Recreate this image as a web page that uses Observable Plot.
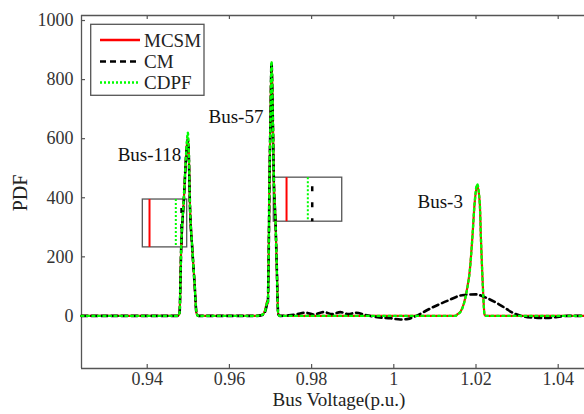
<!DOCTYPE html>
<html>
<head>
<meta charset="utf-8">
<script src="https://cdn.jsdelivr.net/npm/d3@7"></script>
<script src="https://cdn.jsdelivr.net/npm/@observablehq/plot@0.6"></script>
<style>
  html, body { margin: 0; padding: 0; background: #fff; overflow: hidden; }
</style>
</head>
<body>
<div id="chart"></div>
<script>
// Probability density of bus voltage for three buses, three methods.

const xTicks = [0.94, 0.96, 0.98, 1, 1.02, 1.04];
const xTickLabels = ["0.94", "0.96", "0.98", "1", "1.02", "1.04"];
const yTicks = [0, 200, 400, 600, 800, 1000];
const yTickLabels = ["0", "200", "400", "600", "800", "1000"];

const methods = ["MCSM", "CM", "CDPF"];

// Flat ends of the voltage range
const startV = 0.924, endV = 1.0464;

// Bus-118 peak
const v118 = [0.9474, 0.94786, 0.94827, 0.94891, 0.94949, 0.94988, 0.95012, 0.95036, 0.95095, 0.9515, 0.9520, 0.9524];
const mcsm118 = [0, 9, 232, 394, 549, 603, 549, 394, 232, 115, 9, 0];
const cm118   = [0, 9, 230, 392, 545, 598, 545, 392, 230, 114, 9, 0];
const cdpf118 = [0, 9, 234, 398, 556, 620, 556, 398, 234, 116, 9, 0];

// Bus-57 peak (with small shoulder on the left)
const v57 = [0.9665, 0.9680, 0.9687, 0.9692, 0.96935, 0.96955, 0.96976, 0.9700, 0.97024, 0.97056, 0.9708, 0.97122, 0.9715, 0.97187, 0.9722];
const mcsm57 = [0, 4, 20, 50, 38, 200, 470, 673, 858, 673, 470, 319, 180, 7, 0];
const cm57   = [0, 3, 15, 40, 45, 200, 468, 670, 855, 670, 468, 317, 178, 7, 0];
const cdpf57 = [0, 4, 18, 45, 42, 205, 472, 676, 862, 676, 472, 320, 180, 7, 0];

// Bus-3 peak
const v3 = [1.0150, 1.01543, 1.0163, 1.01703, 1.0178, 1.01849, 1.0191, 1.01966, 1.02029, 1.02092, 1.0212, 1.0215, 1.0218, 1.02207, 1.0224];
const mcsm3 = [0, 5, 16, 41, 90, 154, 262, 380, 443, 380, 262, 154, 60, 5, 0];
const cdpf3 = [0, 5, 15, 40, 88, 152, 262, 382, 446, 382, 262, 154, 58, 5, 0];

// CM beyond Bus-57: ripples and the wide Bus-3 estimate
const vCmTail = [0.9725, 0.9745, 0.9765, 0.9785, 0.9805, 0.983, 0.985, 0.987, 0.989, 0.9907, 0.9935, 0.9965, 0.9992, 1.0016, 1.0035, 1.0049, 1.0093, 1.013, 1.0166, 1.0199, 1.0227, 1.026, 1.0292, 1.0325, 1.0373, 1.0422, 1.0464];
const cmTail = [0, 2, 6, 11, 5, 13, 6, 13, 6, 11, 2, -5, -8, -12, -10, -3, 28, 51, 70, 73, 60, 36, 9, -4, -7, 0, 0];

// Zoom boxes next to the Bus-118 and Bus-57 peaks
const insetX1 = [0.93893, 0.9708];
const insetX2 = [0.94973, 0.98745];
const insetTop = [394, 468];
const insetBottom = [232, 319];
const insetMcsmV = [0.94056, 0.97390];
const insetCdpfV = [0.94696, 0.97908];
const insetCmV   = [0.94835, 0.98015];

const busNames = ["Bus-118", "Bus-57", "Bus-3"];
const busLabelV = [0.94056, 0.9616, 1.01129];
const busLabelPdf = [526, 653, 366];

// ---------- build tables ----------
function segment(vs, ps) { return vs.map((v, i) => ({v, pdf: ps[i]})); }
const mcsmRows = [{v: startV, pdf: 0}, ...segment(v118, mcsm118), ...segment(v57, mcsm57), ...segment(v3, mcsm3), {v: endV, pdf: 0}];
const cdpfRows = [{v: startV, pdf: 0}, ...segment(v118, cdpf118), ...segment(v57, cdpf57), ...segment(v3, cdpf3), {v: endV, pdf: 0}];
const cmRows   = [{v: startV, pdf: 0}, ...segment(v118, cm118), ...segment(v57, cm57), ...segment(vCmTail, cmTail)];

const insets = insetX1.map((x1, i) => ({
  x1, x2: insetX2[i], top: insetTop[i], bottom: insetBottom[i],
  mcsm: insetMcsmV[i], cdpf: insetCdpfV[i], cm: insetCmV[i]
}));
const busLabels = busNames.map((name, i) => ({name, v: busLabelV[i], pdf: busLabelPdf[i]}));
const xTickRows = xTicks.map((v, i) => ({v, label: xTickLabels[i]}));
const yTickRows = yTicks.map((p, i) => ({p, label: yTickLabels[i]}));

// ---------- layout ----------
const W = 584, H = 414;
const mL = 81, mT = 15, mB = 46, mR = 0;
const plotW = W - mL - mR, plotH = H - mT - mB;
const xDomain = [0.92401, 1.0464];
const yDomain = [-178, 1017];
const axisColor = "#555";
const FONT = "'Liberation Serif', 'Times New Roman', serif";

const chart = Plot.plot({
  width: W, height: H,
  marginLeft: mL, marginTop: mT, marginBottom: mB, marginRight: mR,
  style: {fontFamily: FONT, fontSize: "18px", color: "#333", background: "#fff", overflow: "visible"},
  x: {domain: xDomain, axis: null},
  y: {domain: yDomain, axis: null},
  marks: [
    // frame (left, bottom, top)
    Plot.ruleX([xDomain[0]], {stroke: axisColor, strokeWidth: 1.3}),
    Plot.ruleY([yDomain[0]], {stroke: axisColor, strokeWidth: 1.3}),
    Plot.ruleY([yDomain[1]], {stroke: axisColor, strokeWidth: 1.3}),
    // inward tick marks
    Plot.ruleX(xTicks, {x: d => d, insetTop: plotH - 4, stroke: axisColor, strokeWidth: 1.2}),
    Plot.ruleX(xTicks, {x: d => d, insetBottom: plotH - 4, stroke: axisColor, strokeWidth: 1.2}),
    Plot.ruleY(yTicks, {y: d => d, insetRight: plotW - 4, stroke: axisColor, strokeWidth: 1.2}),
    // tick labels
    Plot.text(xTickRows, {x: "v", text: "label", frameAnchor: "bottom", lineAnchor: "top", dy: 4,
      fontSize: 18, fill: "#333"}),
    Plot.text(yTickRows, {y: "p", text: "label", frameAnchor: "left", textAnchor: "end", dx: -8,
      fontSize: 18, fill: "#333"}),

    // zoom boxes
    Plot.rect(insets, {x1: "x1", x2: "x2", y1: "bottom", y2: "top", fill: "none", stroke: axisColor, strokeWidth: 1.3}),
    Plot.ruleX(insets, {x: "mcsm", y1: "top", y2: "bottom", stroke: "#ff0000", strokeWidth: 2}),
    Plot.ruleX(insets, {x: "cdpf", y1: "top", y2: "bottom", stroke: "#00ff00", strokeWidth: 2, strokeDasharray: "2,2"}),
    Plot.ruleX(insets, {x: "cm", y1: "top", y2: "bottom", stroke: "#000", strokeWidth: 2.5, strokeDasharray: "5,11", strokeDashoffset: 7}),

    // density curves
    Plot.line(mcsmRows, {x: "v", y: "pdf", stroke: "#ff0000", strokeWidth: 2.2, curve: "monotone-x"}),
    Plot.line(cmRows, {x: "v", y: "pdf", stroke: "#000", strokeWidth: 2.6, strokeDasharray: "6,4", curve: "monotone-x"}),
    Plot.line(cdpfRows, {x: "v", y: "pdf", stroke: "#00ff00", strokeWidth: 2.4, strokeDasharray: "2,3.5", curve: "monotone-x"}),

    // bus names
    Plot.text(busLabels, {x: "v", y: "pdf", text: "name", lineAnchor: "bottom", textAnchor: "middle",
      fontSize: 19, fill: "#111"})
  ]
});

document.getElementById("chart").appendChild(chart);

// axis titles and legend
const svg = d3.select(chart);
svg.append("text")
  .attr("transform", `translate(27,193) rotate(-90)`)
  .attr("text-anchor", "middle")
  .attr("font-size", 20).attr("fill", "#222")
  .text("PDF");
svg.append("text")
  .attr("x", 339).attr("y", 406)
  .attr("text-anchor", "middle")
  .attr("font-size", 19).attr("fill", "#222")
  .text("Bus Voltage(p.u.)");

const legend = svg.append("g").attr("text-anchor", "start");
legend.append("rect")
  .attr("x", 90.7).attr("y", 24.3).attr("width", 113.3).attr("height", 71)
  .attr("fill", "#fff").attr("stroke", axisColor).attr("stroke-width", 1.3);
const legendStyle = [
  {stroke: "#ff0000", width: 2.5, dash: null},
  {stroke: "#000", width: 2.5, dash: "6,4"},
  {stroke: "#00ff00", width: 2.5, dash: "2,2"}
];
const legendRowY = [40, 61.5, 82.5];
methods.forEach((m, i) => {
  const y = legendRowY[i];
  legend.append("line")
    .attr("x1", 100).attr("x2", 140).attr("y1", y).attr("y2", y)
    .attr("stroke", legendStyle[i].stroke).attr("stroke-width", legendStyle[i].width)
    .attr("stroke-dasharray", legendStyle[i].dash);
  legend.append("text")
    .attr("x", 144).attr("y", y + 6.5)
    .attr("text-anchor", "start")
    .attr("font-size", 19).attr("fill", "#222")
    .text(m);
});
</script>
</body>
</html>
